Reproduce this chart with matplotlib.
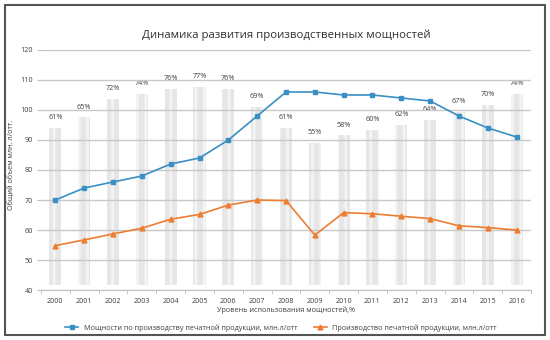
import matplotlib.pyplot as plt
from matplotlib.patches import Rectangle

years = [str(y) for y in range(2000, 2017)]
capacity = [70, 74, 76, 78, 82, 84, 90, 98, 106, 106, 105, 105, 104, 103, 98, 94, 91]
production = [54.8, 56.7, 58.7, 60.6, 63.6, 65.2, 68.3, 70, 69.8, 58.3, 65.8, 65.4, 64.6, 63.8, 61.4, 60.8, 60]
usage = [61, 65, 72, 74, 76, 77, 76, 69, 61, 55, 58, 60, 62, 64, 67, 70, 74]

plt.rcParams['font.family'] = ['Open Sans', 'DejaVu Sans']
txt = '#404040'
fs = 5.2

fig = plt.figure(figsize=(5.5, 3.4), dpi=100)
fig.patches.append(Rectangle((0.009, 0.015), 0.982, 0.97, transform=fig.transFigure,
                             fill=False, edgecolor='#555555', linewidth=1.5))

ax = fig.add_axes([0.0745, 0.147, 0.891, 0.706])
axb = ax.twinx()
ax.set_zorder(axb.get_zorder() + 1)
ax.patch.set_visible(False)

x = range(len(years))

# usage bars on hidden secondary scale
plt.rcParams['hatch.linewidth'] = 2.0
axb.bar(x, usage, width=0.42, color='#e6e6e6', edgecolor='#f4f4f4',
        linewidth=0, hatch='||')
for xi, u in zip(x, usage):
    axb.annotate(f'{u}%', (xi, u), xytext=(0, 5), textcoords='offset points',
                 ha='center', va='bottom', fontsize=fs, color=txt)
axb.set_ylim(-2, 91.2)
axb.axis('off')

ax.plot(x, capacity, color='#3a8fc4', marker='s', markersize=3.5, linewidth=1.2,
        label='Мощности по производству печатной продукции, млн.л/отт')
ax.plot(x, production, color='#ed7d31', marker='^', markersize=3.5, linewidth=1.2,
        label='Производство печатной продукции, млн.л/отт')

ax.set_xlim(-0.5, len(years) - 0.5)
ax.set_ylim(40, 120)
ax.set_yticks(range(40, 121, 10))
ax.set_xticks(list(x))
ax.set_xticklabels(years)
ax.set_xticks([i - 0.5 for i in range(len(years) + 1)], minor=True)
ax.tick_params(axis='x', which='major', length=0, labelsize=fs, labelcolor=txt, pad=6)
ax.tick_params(axis='x', which='minor', length=3, color='#bfbfbf')
ax.tick_params(axis='y', length=3, color='#bfbfbf', labelsize=fs, labelcolor=txt, pad=3)
ax.grid(axis='y', color='#c8c8c8', linewidth=1)
for s in ['top', 'right', 'left']:
    ax.spines[s].set_visible(False)
ax.spines['bottom'].set_color('#bfbfbf')

ax.set_xlabel('Уровень использования мощностей,%', fontsize=fs, color=txt, labelpad=1)
ax.set_ylabel('Общий объем млн. л/отт.', fontsize=fs, color=txt)
ax.yaxis.set_label_coords(-0.052, 0.52)
fig.text(0.52, 0.897, 'Динамика развития производственных мощностей',
         ha='center', va='center', fontsize=8.2, color='#303030')

ax.legend(loc='upper center', bbox_to_anchor=(0.49, -0.115), ncol=2, frameon=False,
          fontsize=fs, labelcolor=txt, handlelength=1.8, columnspacing=2.2)

fig.savefig('out.png', dpi=100)
